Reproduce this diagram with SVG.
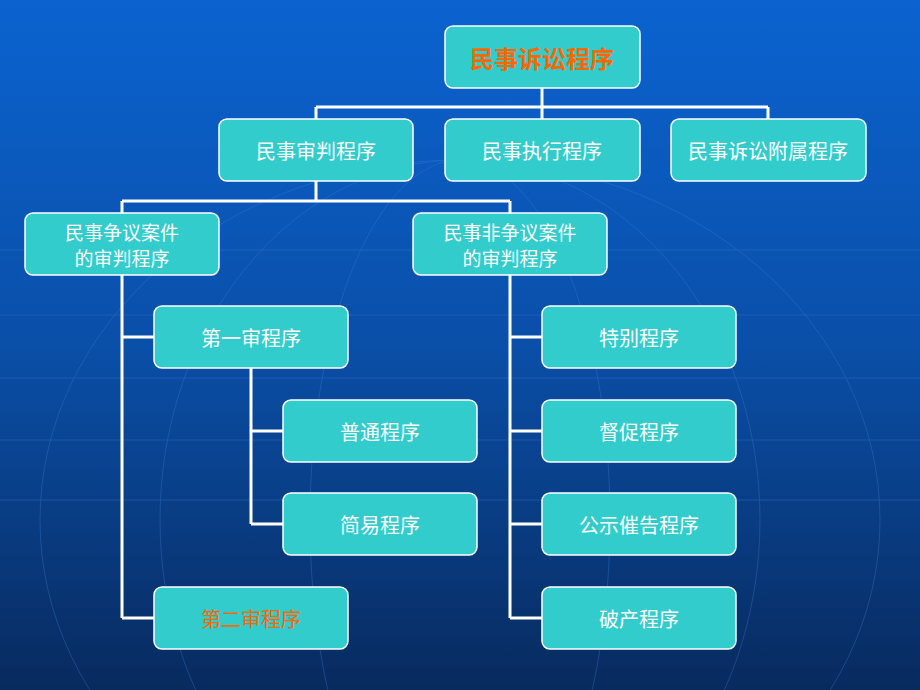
<svg xmlns="http://www.w3.org/2000/svg" width="920" height="690" viewBox="0 0 920 690">
<defs>
<linearGradient id="bg" x1="0" y1="0" x2="0" y2="1">
<stop offset="0" stop-color="#0b63d0"/><stop offset="0.5" stop-color="#0a4fa8"/><stop offset="1" stop-color="#082a5e"/>
</linearGradient>
</defs>
<style>
.n rect{fill:#33cccc;stroke:#ffffff;stroke-width:1.5}
.n text{font-family:"Noto Sans CJK SC",sans-serif;font-size:20px;fill:#ffffff;text-anchor:middle;dominant-baseline:central}
.o text{fill:#ff6600}
#connectors path{stroke:#ffffff;stroke-width:3;fill:none}
.g{stroke:#3a7fd8;stroke-width:1;fill:none;opacity:0.35}
</style>
<rect width="920" height="690" fill="url(#bg)"/>
<g class="g">
<path d="M0 250H920M0 315H920M0 378H920M0 440H920M0 500H920"/>
<ellipse cx="460" cy="520" rx="420" ry="360"/>
<ellipse cx="460" cy="520" rx="300" ry="360"/>
<ellipse cx="460" cy="520" rx="150" ry="360"/>
</g>
<g id="connectors">
<path d="M542 88V107M316 107H768M316 107V119M542 107V119M768 107V119"/>
<path d="M316 181V201M122 201H510M122 201V213M510 201V213"/>
<path d="M122 275V618M122 337H154M122 618H154"/>
<path d="M251 368V524M251 431H283M251 524H283"/>
<path d="M510 275V618M510 337H542M510 431H542M510 524H542M510 618H542"/>
</g>
<g id="root" class="n o"><rect x="445" y="26" width="195" height="62" rx="8"/><text x="542" y="57" style="font-size:24px;font-weight:bold">民事诉讼程序</text></g>
<g id="n1" class="n"><rect x="219" y="119" width="194" height="62" rx="8"/><text x="316" y="150">民事审判程序</text></g>
<g id="n2" class="n"><rect x="445" y="119" width="195" height="62" rx="8"/><text x="542" y="150">民事执行程序</text></g>
<g id="n3" class="n"><rect x="671" y="119" width="195" height="62" rx="8"/><text x="768" y="150">民事诉讼附属程序</text></g>
<g id="n4" class="n"><rect x="25" y="213" width="194" height="62" rx="8"/><text x="122" y="231" style="font-size:19px">民事争议案件</text><text x="122" y="257" style="font-size:19px">的审判程序</text></g>
<g id="n5" class="n"><rect x="413" y="213" width="194" height="62" rx="8"/><text x="510" y="231" style="font-size:19px">民事非争议案件</text><text x="510" y="257" style="font-size:19px">的审判程序</text></g>
<g id="n6" class="n"><rect x="154" y="306" width="194" height="62" rx="8"/><text x="251" y="337">第一审程序</text></g>
<g id="n7" class="n"><rect x="283" y="400" width="194" height="62" rx="8"/><text x="380" y="431">普通程序</text></g>
<g id="n8" class="n"><rect x="283" y="493" width="194" height="62" rx="8"/><text x="380" y="524">简易程序</text></g>
<g id="n9" class="n o"><rect x="154" y="587" width="194" height="62" rx="8"/><text x="251" y="618">第二审程序</text></g>
<g id="n10" class="n"><rect x="542" y="306" width="194" height="62" rx="8"/><text x="639" y="337">特别程序</text></g>
<g id="n11" class="n"><rect x="542" y="400" width="194" height="62" rx="8"/><text x="639" y="431">督促程序</text></g>
<g id="n12" class="n"><rect x="542" y="493" width="194" height="62" rx="8"/><text x="639" y="524">公示催告程序</text></g>
<g id="n13" class="n"><rect x="542" y="587" width="194" height="62" rx="8"/><text x="639" y="618">破产程序</text></g>
</svg>
